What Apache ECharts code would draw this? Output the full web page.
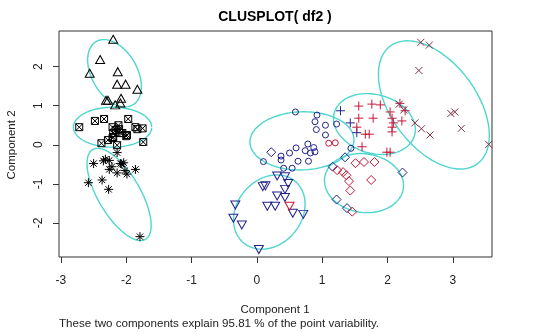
<!DOCTYPE html>
<html>
<head>
<meta charset="utf-8">
<script src="https://cdn.jsdelivr.net/npm/echarts@6/dist/echarts.min.js"></script>
<style>
  html, body { margin: 0; padding: 0; background: #ffffff; }
  #chart { width: 540px; height: 333px; }
</style>
</head>
<body>
<div id="chart"></div>
<script>
// Points of each cluster on the first two principal components: [comp1, comp2, class]
// class: 1, 2, 3 (group of the observation)
const triangles = [[-2.20,2.70,1],[-2.40,2.18,1],[-2.56,1.83,1],[-2.13,1.87,1],[-2.14,1.55,1],[-2.01,1.55,1],
  [-1.83,1.42,1],[-2.31,1.14,1],[-2.28,1.14,1],[-2.08,1.19,1],[-2.09,1.07,1],[-2.17,1.02,1]];
const squares = [[-2.72,0.45,1],[-2.48,0.61,1],[-2.34,0.66,1],[-1.97,0.66,1],[-2.21,0.45,1],[-2.12,0.50,1],
  [-1.86,0.45,1],[-1.75,0.42,1],[-1.83,0.40,1],[-2.06,0.30,1],[-2.20,0.20,1],[-2.00,0.22,1],[-2.38,0.04,1],
  [-2.28,0.12,1],[-2.21,0.17,1],[-2.14,-0.01,1],[-2.20,0.30,1],[-2.09,0.30,1],[-1.99,0.25,1],[-1.74,0.07,1],
  [-2.16,0.38,1],[-2.11,0.40,1]];
const asterisks = [[-2.14,-0.20,1],[-2.32,-0.37,1],[-2.35,-0.41,1],[-2.26,-0.40,1],[-2.22,-0.56,1],[-2.26,-0.63,1],
  [-2.09,-0.48,1],[-2.07,-0.49,1],[-2.04,-0.46,1],[-2.02,-0.66,1],[-1.99,-0.75,1],[-2.14,-0.72,1],[-1.86,-0.63,1],
  [-2.50,-0.48,1],[-2.58,-0.97,1],[-2.37,-0.90,1],[-2.27,-1.14,1],[-1.79,-2.35,1]];
const circles = [[0.59,0.84,2],[0.92,0.76,2],[0.89,0.59,2],[1.05,0.50,2],[1.22,0.53,2],[0.91,0.39,2],[1.05,0.25,2],
  [0.78,0.02,2],[0.87,-0.07,2],[0.74,-0.15,2],[0.82,-0.21,2],[0.89,-0.18,2],[0.60,-0.08,2],[0.50,-0.21,2],
  [0.37,-0.29,2],[0.37,-0.39,2],[0.63,-0.42,2],[0.79,-0.42,2],[0.10,-0.43,2],[0.41,-0.60,2],[0.54,-0.60,2],
  [1.44,-0.09,2],[1.10,0.04,3],[1.20,0.05,3]];
const downTriangles = [[0.31,-0.80,2],[0.43,-0.82,2],[0.48,-0.99,2],[0.09,-1.07,2],[0.13,-1.05,2],[0.43,-1.14,2],
  [0.31,-1.31,2],[0.43,-1.35,2],[0.16,-1.57,2],[0.28,-1.57,2],[0.55,-1.75,2],[0.71,-1.78,2],[-0.33,-1.54,2],
  [-0.36,-1.88,2],[-0.23,-2.05,2],[0.03,-2.68,2],[0.50,-1.57,3]];
const diamonds = [[1.35,-0.32,2],[1.16,-0.56,2],[1.22,-1.40,2],[1.38,-1.62,2],[0.22,-0.19,2],[2.23,-0.71,2],
  [1.23,-0.65,3],[1.32,-0.70,3],[1.37,-0.78,3],[1.41,-0.93,3],[1.51,-0.47,3],[1.64,-0.44,3],[1.80,-0.44,3],
  [1.75,-0.90,3],[1.43,-1.17,3],[1.46,-1.71,3]];
const pluses = [[1.28,0.87,2],[1.43,0.56,2],[1.53,0.31,2],
  [1.56,0.99,3],[1.76,1.04,3],[1.89,1.02,3],[1.56,0.68,3],[1.78,0.68,3],[2.04,0.84,3],[2.07,0.68,3],[2.19,1.06,3],
  [2.27,0.87,3],[2.09,0.56,3],[2.22,0.61,3],[1.53,0.45,3],[2.07,0.45,3],[2.07,0.33,3],[1.66,0.27,3],[1.72,0.27,3],
  [1.61,-0.05,3],[1.99,-0.19,3],[2.04,-0.19,3]];
const crosses = [[2.51,2.62,3],[2.64,2.55,3],[2.48,1.90,3],[2.18,1.04,3],[2.25,0.89,3],[2.97,0.80,3],[3.03,0.84,3],
  [3.13,0.42,3],[2.42,0.56,3],[2.52,0.41,3],[2.65,0.25,3],[3.55,0.01,3]];

// Cluster ellipses: [centre1, centre2, semi-axis a, semi-axis b, angle of a (degrees)]
const ellipses = [
  [-2.18, 1.83, 0.88, 0.37, 103],
  [-2.21, 0.45, 0.60, 0.51, 0],
  [-2.11, -1.27, 1.23, 0.35, 107],
  [0.69, 0.10, 0.80, 0.74, 15],
  [0.19, -1.72, 0.96, 0.53, 80],
  [1.64, -0.98, 0.76, 0.60, 100],
  [1.80, 0.53, 0.80, 0.60, 110],
  [2.71, 1.02, 1.70, 0.72, 107]
];

const xTicks = [-3, -2, -1, 0, 1, 2, 3];
const yTicks = [-2, -1, 0, 1, 2];

const classColor = { 1: '#000000', 2: '#22228f', 3: '#c41838' };
const crossColor = '#8a2e44';
const ellipseColor = '#4fd6cd';
const font = '"Liberation Sans", Arial, sans-serif';

function ellipsePath(e) {
  const [cx, cy, a, b, deg] = e;
  const p = deg * Math.PI / 180;
  const pts = [];
  for (let i = 0; i <= 180; i++) {
    const t = i / 180 * 2 * Math.PI;
    pts.push([
      cx + a * Math.cos(t) * Math.cos(p) - b * Math.sin(t) * Math.sin(p),
      cy + a * Math.cos(t) * Math.sin(p) + b * Math.sin(t) * Math.cos(p)
    ]);
  }
  return pts;
}

const series = [];
ellipses.forEach(e => {
  series.push({
    type: 'line', data: ellipsePath(e), showSymbol: false, symbol: 'none',
    lineStyle: { color: ellipseColor, width: 1.4 }, z: 1, silent: true, animation: false
  });
});

function addCluster(points, symbol, size, rotate, colorOverride) {
  [1, 2, 3].forEach(c => {
    const pts = points.filter(p => p[2] === c).map(p => [p[0], p[1]]);
    if (!pts.length) return;
    series.push({
      type: 'scatter', data: pts, symbol: symbol, symbolSize: size, symbolRotate: rotate || 0,
      itemStyle: { color: 'none', borderColor: colorOverride || classColor[c], borderWidth: 1, opacity: 1 },
      z: 2, silent: true, animation: false
    });
  });
}

addCluster(circles, 'circle', 6);
addCluster(triangles, 'triangle', [9, 8]);
addCluster(pluses, 'path://M0,5H10M5,0V10', 9);
addCluster(crosses, 'path://M0,0L10,10M10,0L0,10', 7, 0, crossColor);
addCluster(diamonds, 'diamond', [9, 9]);
addCluster(downTriangles, 'triangle', [9, 8], 180);
addCluster(squares, 'path://M0,0H10V10H0ZM0,0L10,10M10,0L0,10', 7);
addCluster(asterisks, 'path://M0,5H10M5,0V10M1.5,1.5L8.5,8.5M8.5,1.5L1.5,8.5', 9);

const chart = echarts.init(document.getElementById('chart'), null, { renderer: 'canvas' });
chart.setOption({
  animation: false,
  backgroundColor: '#ffffff',
  grid: { left: 59, right: 48, top: 31, bottom: 76, show: true, borderColor: '#333', borderWidth: 1, containLabel: false },
  xAxis: {
    type: 'value', min: -3.03, max: 3.6,
    splitLine: { show: false }, axisLine: { show: false, onZero: false },
    axisTick: { show: true, length: 6, customValues: xTicks, lineStyle: { color: '#333' } },
    axisLabel: { customValues: xTicks, margin: 18, fontSize: 12, color: '#222', fontFamily: font }
  },
  yAxis: {
    type: 'value', min: -2.87, max: 2.91,
    splitLine: { show: false }, axisLine: { show: false, onZero: false },
    axisTick: { show: true, length: 6, customValues: yTicks, lineStyle: { color: '#333' } },
    axisLabel: { customValues: yTicks, margin: 14, rotate: 90, fontSize: 12, color: '#222', fontFamily: font }
  },
  graphic: [
    { type: 'text', x: 275, y: 17, style: { text: 'CLUSPLOT( df2 )', fontSize: 14, fontWeight: 'bold', fontFamily: font,
      fill: '#000', align: 'center', verticalAlign: 'middle', textAlign: 'center', textVerticalAlign: 'middle' } },
    { type: 'text', x: 275, y: 310, style: { text: 'Component 1', fontSize: 11.5, fontFamily: font,
      fill: '#222', align: 'center', verticalAlign: 'middle', textAlign: 'center', textVerticalAlign: 'middle' } },
    { type: 'text', x: 59, y: 324, style: { text: 'These two components explain 95.81 % of the point variability.', fontSize: 11.6, fontFamily: font,
      fill: '#222', align: 'left', verticalAlign: 'middle', textAlign: 'left', textVerticalAlign: 'middle' } },
    { type: 'text', x: 12, y: 145, rotation: Math.PI / 2, style: { text: 'Component 2', fontSize: 11.5, fontFamily: font,
      fill: '#222', align: 'center', verticalAlign: 'middle', textAlign: 'center', textVerticalAlign: 'middle' } }
  ],
  series: series
});
</script>
</body>
</html>
